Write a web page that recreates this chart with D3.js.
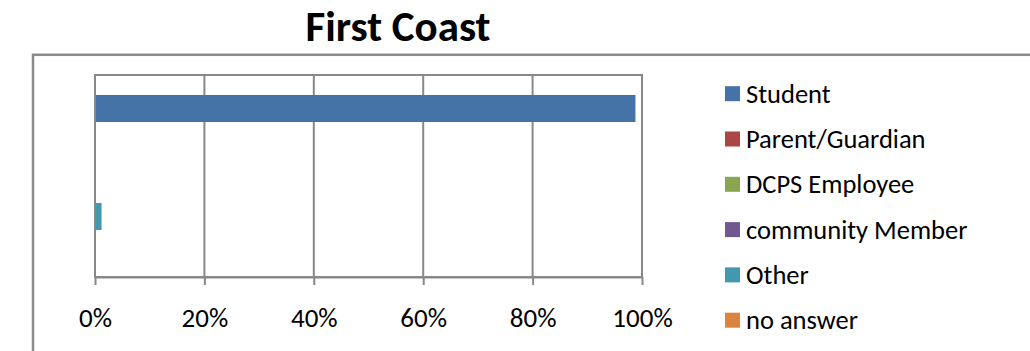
<!DOCTYPE html>
<html>
<head>
<meta charset="utf-8">
<script src="https://cdn.jsdelivr.net/npm/d3@7"></script>
<style>
  html, body { margin: 0; padding: 0; background: #fff; }
  svg { display: block; }
  text { font-family: Carlito, Calibri, Lato, "Open Sans", sans-serif; fill: #000; }
</style>
</head>
<body>
<svg id="chart" width="1030" height="351"></svg>
<script>
const title = "First Coast";
const seriesNames = ["Student", "Parent/Guardian", "DCPS Employee", "community Member", "Other", "no answer"];
const seriesValues = [0.988, 0, 0, 0, 0.012, 0];
const seriesColors = ["#4572A7", "#AA4643", "#89A54E", "#71588F", "#4198AF", "#DB843D"];
const tickValues = [0, 0.2, 0.4, 0.6, 0.8, 1.0];
const tickLabels = ["0%", "20%", "40%", "60%", "80%", "100%"];

const svg = d3.select("#chart");
const plot = { left: 95, right: 642, top: 75, bottom: 277 };
const gridColor = "#888888";

// outer chart border (extends beyond view on right/bottom)
svg.append("rect")
  .attr("x", 33).attr("y", 54.8)
  .attr("width", 1100).attr("height", 400)
  .attr("fill", "none").attr("stroke", "#8a8a8a").attr("stroke-width", 2.5);

// title
svg.append("text")
  .attr("x", 398).attr("y", 41)
  .attr("text-anchor", "middle")
  .attr("font-size", 43).attr("font-weight", "bold")
  .text(title);

const x = d3.scaleLinear().domain([0, 1]).range([plot.left, plot.right]);
const y = d3.scaleBand().domain(seriesNames).range([plot.top, plot.bottom])
  .paddingInner(0).paddingOuter(0.74);

// vertical gridlines
svg.append("g").selectAll("line").data(tickValues).join("line")
  .attr("x1", d => x(d)).attr("x2", d => x(d))
  .attr("y1", plot.top).attr("y2", plot.bottom)
  .attr("stroke", gridColor).attr("stroke-width", 2);

// plot border
svg.append("rect")
  .attr("x", plot.left).attr("y", plot.top)
  .attr("width", plot.right - plot.left).attr("height", plot.bottom - plot.top)
  .attr("fill", "none").attr("stroke", gridColor).attr("stroke-width", 2);

// bars
svg.append("g").selectAll("rect").data(seriesNames).join("rect")
  .attr("x", x(0) + 1)
  .attr("y", d => y(d))
  .attr("width", (d, i) => Math.max(0, x(seriesValues[i]) - x(0) - 1))
  .attr("height", y.bandwidth())
  .attr("fill", (d, i) => seriesColors[i]);

// x axis
const xAxis = d3.axisBottom(x)
  .tickValues(tickValues)
  .tickFormat((d, i) => tickLabels[i])
  .tickSizeInner(8).tickSizeOuter(0);
const gx = svg.append("g").attr("transform", `translate(0,${plot.bottom})`).call(xAxis);
gx.select(".domain").attr("stroke", gridColor).attr("stroke-width", 2);
gx.selectAll(".tick line").attr("stroke", gridColor).attr("stroke-width", 2);
gx.selectAll(".tick text")
  .attr("y", 50).attr("dy", 0)
  .attr("font-size", 27)
  .attr("font-family", "Carlito, Calibri, Lato, 'Open Sans', sans-serif")
  .attr("fill", "#000");

// legend
const legend = svg.append("g");
const rows = legend.selectAll("g").data(seriesNames).join("g")
  .attr("transform", (d, i) => `translate(725, ${102.7 + i * 45.3})`);
rows.append("rect")
  .attr("x", 0).attr("y", -16.5).attr("width", 15).attr("height", 15)
  .attr("fill", (d, i) => seriesColors[i]);
rows.append("text")
  .attr("x", 21).attr("y", 0)
  .attr("font-size", 26.5)
  .text(d => d);
</script>
</body>
</html>
